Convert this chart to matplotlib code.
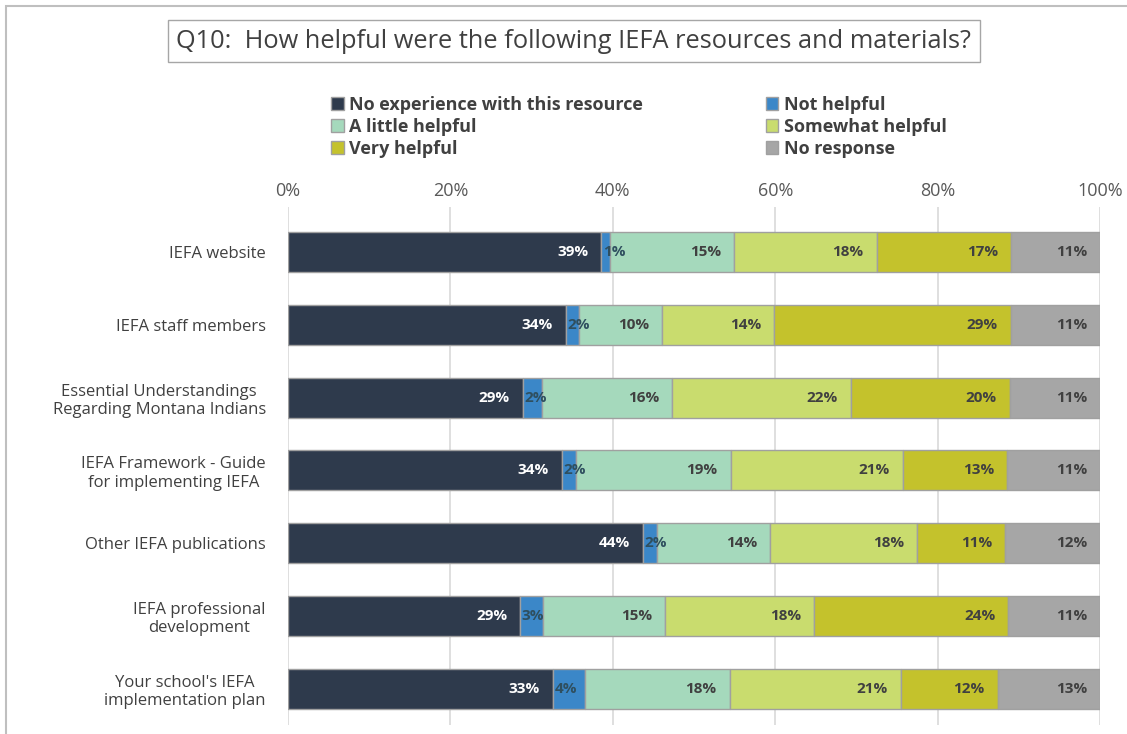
import numpy as np
import matplotlib.pyplot as plt
from matplotlib.patches import Rectangle

# data (percent of respondents)
resources = ["IEFA website", "IEFA staff members",
             "Essential Understandings\nRegarding Montana Indians",
             "IEFA Framework - Guide\nfor implementing IEFA",
             "Other IEFA publications",
             "IEFA professional\ndevelopment",
             "Your school's IEFA\nimplementation plan"]
categories = ["No experience with this resource", "Not helpful",
              "A little helpful", "Somewhat helpful", "Very helpful",
              "No response"]
no_experience = [38.6, 34.2, 28.9, 33.7, 43.7, 28.6, 32.6]
not_helpful = [1.1, 1.6, 2.4, 1.8, 1.7, 2.8, 4.0]
little_helpful = [15.2, 10.3, 16.0, 19.0, 14.0, 15.0, 17.8]
somewhat_helpful = [17.6, 13.8, 22.0, 21.2, 18.1, 18.4, 21.1]
very_helpful = [16.6, 29.1, 19.6, 12.9, 10.8, 23.9, 11.9]
no_response = [10.9, 11.0, 11.1, 11.4, 11.7, 11.3, 12.6]

colors = ["#2E3A4C", "#3B87C8", "#A5D9BC", "#C9DC6E", "#C4C22C", "#A6A6A6"]
text_colors = ["white", "#404040", "#404040", "#404040", "#404040", "#404040"]

plt.rcParams['font.family'] = ['Open Sans', 'DejaVu Sans']

fig = plt.figure(figsize=(11.27, 7.34), dpi=100)
ax = fig.add_axes([288 / 1127, 1 - 725 / 734, (1100 - 288) / 1127, (725 - 207) / 734])

series = [no_experience, not_helpful, little_helpful, somewhat_helpful,
          very_helpful, no_response]
y = np.arange(len(resources))
left = np.zeros(len(resources))
handles = []
for k, (vals, name, c, tc) in enumerate(zip(series, categories, colors, text_colors)):
    vals = np.array(vals)
    bars = ax.barh(y, vals, left=left, height=0.55, color=c,
                   edgecolor="#A0A0A0", linewidth=1, label=name, zorder=3)
    handles.append(bars)
    for yi, l, v in zip(y, left, vals):
        if k == 1:
            # narrow segment: label spills to the right
            ax.text(l + 0.2, yi, f"{round(v):.0f}%", ha="left", va="center",
                    fontsize=11, fontweight="bold", color="#2F4F5F", zorder=4)
        else:
            ax.text(l + v - 1.6, yi, f"{round(v):.0f}%", ha="right", va="center",
                    fontsize=11, fontweight="bold", color=tc, zorder=4)
    left += vals

ax.set_xlim(0, 100)
ax.set_ylim(len(resources) - 0.5, -0.62)
ax.set_xticks(np.arange(0, 101, 20))
ax.set_xticklabels([f"{t}%" for t in range(0, 101, 20)])
ax.xaxis.tick_top()
ax.tick_params(axis="x", length=0, pad=5, labelsize=13, labelcolor="#595959")
ax.set_yticks(y)
ax.set_yticklabels(resources, fontsize=12, color="#404040", multialignment="center")
ax.tick_params(axis="y", length=0, pad=16)
ax.grid(axis="x", color="#D9D9D9", linewidth=1.2, zorder=0)
for s in ax.spines.values():
    s.set_visible(False)

# legend, Excel order row by row in two columns
order = [0, 2, 4, 1, 3, 5]
leg = fig.legend([handles[i] for i in order], [categories[i] for i in order],
                 ncol=2, loc="upper left", bbox_to_anchor=(331 / 1127, 1 - 96 / 734),
                 frameon=False, fontsize=13, handlelength=0.7, handleheight=0.7,
                 handletextpad=0.3, labelspacing=0.22, columnspacing=6.8,
                 borderaxespad=0, borderpad=0)
for t in leg.get_texts():
    t.set_fontweight("bold")
    t.set_color("#404040")

# title in a box
fig.text(574 / 1127, 1 - 41 / 734,
         "Q10:  How helpful were the following IEFA resources and materials?",
         ha="center", va="center", fontsize=18.3, color="#404040",
         bbox=dict(boxstyle="square,pad=0.35", facecolor="white", edgecolor="#A6A6A6"))

# outer chart border
fig.patches.append(Rectangle((6 / 1127, -0.01), 1.2, 1 - 6 / 734 + 0.01,
                             transform=fig.transFigure, fill=False,
                             edgecolor="#BFBFBF", linewidth=1.5))

fig.savefig("out.png", dpi=100)
